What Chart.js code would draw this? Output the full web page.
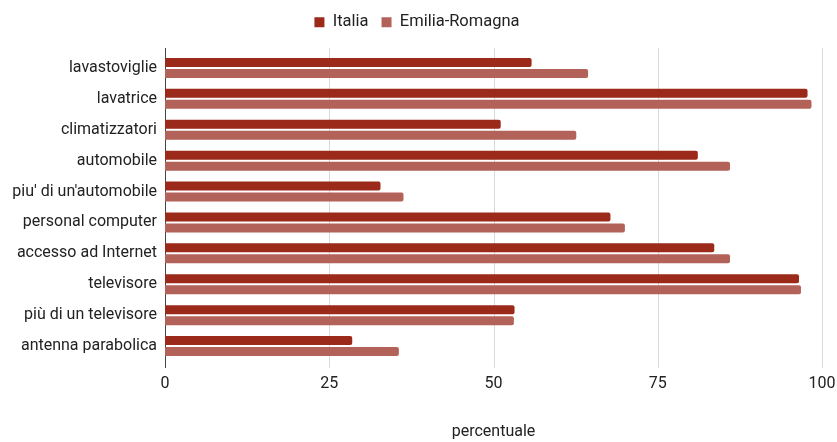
<!DOCTYPE html>
<html>
<head>
<meta charset="utf-8">
<script src="https://cdn.jsdelivr.net/npm/chart.js@4/dist/chart.umd.min.js"></script>
<style>
  html, body { margin: 0; padding: 0; background: #fff; }
  #wrap { width: 837px; height: 442px; }
</style>
</head>
<body>
<div id="wrap"><canvas id="c" width="837" height="442"></canvas></div>
<script>
// Dotazioni delle famiglie: percentuale di famiglie che possiedono il bene
const categories = [
  "lavastoviglie",
  "lavatrice",
  "climatizzatori",
  "automobile",
  "piu' di un'automobile",
  "personal computer",
  "accesso ad Internet",
  "televisore",
  "più di un televisore",
  "antenna parabolica"
];
const italia = [55.8, 97.8, 51.1, 81.1, 32.8, 67.8, 83.6, 96.5, 53.2, 28.5];
const emiliaRomagna = [64.4, 98.4, 62.6, 86.0, 36.3, 70.0, 86.0, 96.8, 53.1, 35.6];
const xTicks = [0, 25, 50, 75, 100];

const FONT = "Roboto, 'Liberation Sans', Arial, sans-serif";
const TEXT = "#222222";

// vertical grid lines and the zero axis, a little longer than the plot area
const gridPlugin = {
  id: "gridLines",
  beforeDatasetsDraw(chart) {
    const { ctx, chartArea, scales } = chart;
    const top = chartArea.top - 4.5;
    const bottom = chartArea.bottom + 6.5;
    ctx.save();
    ctx.lineWidth = 1;
    xTicks.forEach(v => {
      const x = Math.round(scales.x.getPixelForValue(v)) + 0.5;
      ctx.strokeStyle = v === 0 ? "#444444" : "#d9d9d9";
      ctx.beginPath();
      ctx.moveTo(x, top);
      ctx.lineTo(x, bottom);
      ctx.stroke();
    });
    ctx.restore();
  }
};

// extra space below the legend, and the legend centred on the whole canvas
const legendPlacement = {
  id: "legendPlacement",
  beforeInit(chart) {
    const fit = chart.legend.fit;
    chart.legend.fit = function () {
      fit.call(this);
      this.height += 12;
    };
  },
  afterLayout(chart) {
    chart.legend.left += 12;
  }
};

new Chart(document.getElementById("c"), {
  type: "bar",
  data: {
    labels: categories,
    datasets: [
      {
        label: "Italia",
        data: italia,
        backgroundColor: "#9b2a1b",
        borderWidth: 0,
        borderRadius: 2,
        categoryPercentage: 0.71,
        barPercentage: 0.82
      },
      {
        label: "Emilia-Romagna",
        data: emiliaRomagna,
        backgroundColor: "#b3625a",
        borderWidth: 0,
        borderRadius: 2,
        categoryPercentage: 0.71,
        barPercentage: 0.82
      }
    ]
  },
  options: {
    indexAxis: "y",
    responsive: false,
    animation: false,
    devicePixelRatio: 1,
    layout: { padding: { top: 1, right: 15, bottom: 0, left: 0 } },
    plugins: {
      legend: {
        position: "top",
        labels: {
          boxWidth: 10,
          boxHeight: 10,
          padding: 13,
          color: TEXT,
          font: { family: FONT, size: 16.5 }
        }
      },
      tooltip: { enabled: false }
    },
    scales: {
      x: {
        min: 0,
        max: 100,
        afterBuildTicks(scale) {
          scale.ticks = xTicks.map(v => ({ value: v }));
        },
        afterFit(scale) {
          scale.height = 80.5;
          scale.paddingRight = 0;
        },
        grid: { display: false, drawTicks: false },
        border: { display: false },
        ticks: {
          color: TEXT,
          padding: 13,
          font: { family: FONT, size: 16 }
        },
        title: {
          display: true,
          text: "percentuale",
          color: TEXT,
          padding: { top: 30, bottom: 0 },
          font: { family: FONT, size: 16 }
        }
      },
      y: {
        grid: { display: false, drawTicks: false },
        border: { display: false },
        afterFit(scale) { scale.width = 165; },
        ticks: {
          color: TEXT,
          padding: 8,
          font: { family: FONT, size: 16 }
        }
      }
    }
  },
  plugins: [gridPlugin, legendPlacement]
});
</script>
</body>
</html>
